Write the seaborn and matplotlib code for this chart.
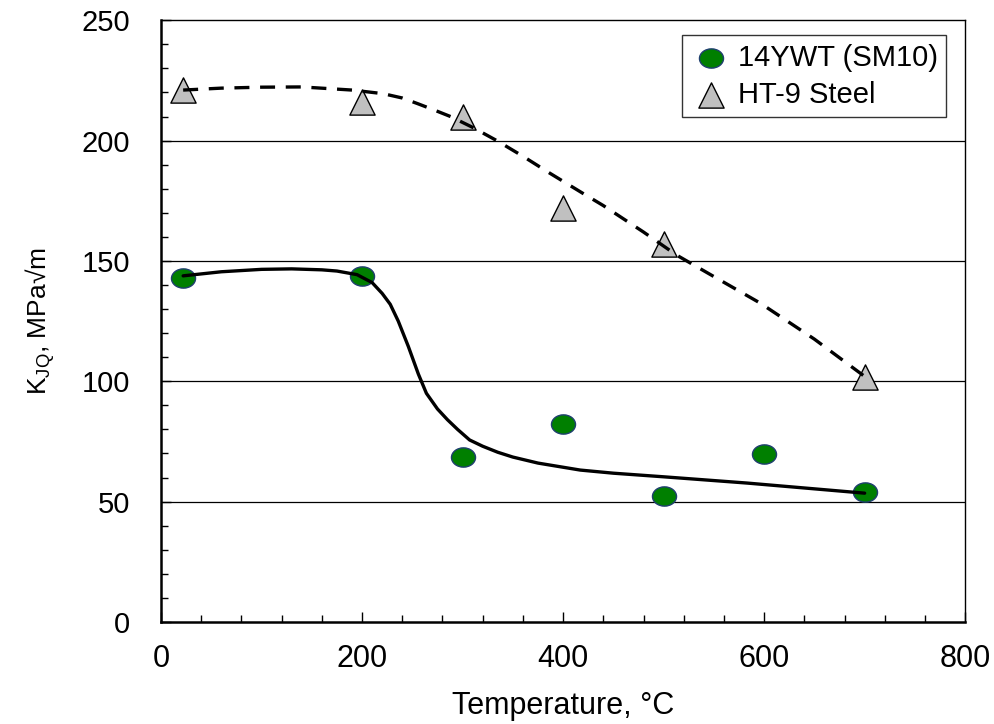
import matplotlib
matplotlib.use("Agg")
import matplotlib.pyplot as plt
import matplotlib.path as mpath
from matplotlib.transforms import Affine2D
from matplotlib.ticker import MultipleLocator
import seaborn as sns
import pandas as pd

# ---- data ----
temp_pts = [22, 200, 300, 400, 500, 600, 700]
ywt_vals = [142.9, 143.7, 68.5, 82.2, 52.3, 69.8, 54.0]
ht9_temp = [22, 200, 300, 400, 500, 700]
ht9_vals = [220.9, 216.0, 210.0, 172.0, 157.0, 101.7]

# trend curves
ywt_fit_t = [22, 60, 100, 130, 160, 175, 195, 210, 220, 228, 236, 246, 256, 264, 275, 285, 295, 307, 320, 335, 350, 375, 417, 450, 500, 583, 700]
ywt_fit_v = [143.8, 145.5, 146.5, 146.7, 146.3, 145.8, 144.3, 141.0, 136.5, 132.0, 125.0, 114.5, 103.0, 95.0, 88.5, 84.0, 80.0, 75.6, 73.0, 70.5, 68.5, 66.0, 63.1, 61.8, 60.3, 57.7, 53.5]
ht9_fit_t = [22, 60, 100, 140, 190, 221, 240, 255, 270, 288, 310, 334, 360, 387, 420, 440, 460, 480, 513, 550, 596, 650, 700]
ht9_fit_v = [221.0, 221.8, 222.2, 222.3, 221.0, 219.5, 217.7, 215.4, 213.0, 210.0, 205.5, 200.0, 193.5, 186.4, 178.0, 173.0, 167.5, 162.0, 152.4, 143.5, 132.5, 117.5, 102.0]

labels = ["14YWT (SM10)", "HT-9 Steel"]

sns.set_style("white")
plt.rcParams["font.family"] = ["Liberation Sans", "DejaVu Sans"]
plt.rcParams["mathtext.fontset"] = "custom"
plt.rcParams["mathtext.rm"] = "Liberation Sans"
plt.rcParams["text.color"] = "black"
plt.rcParams["axes.labelcolor"] = "black"
plt.rcParams["xtick.color"] = "black"
plt.rcParams["ytick.color"] = "black"

fig = plt.figure(figsize=(9.94, 7.24), dpi=100)
ax = fig.add_axes([0.162, 0.141, 0.809, 0.831])

# gridlines
for yv in [50, 100, 150, 200]:
    ax.axhline(yv, color="black", lw=0.9, zorder=0)

df_yf = pd.DataFrame({"t": ywt_fit_t, "v": ywt_fit_v})
df_hf = pd.DataFrame({"t": ht9_fit_t, "v": ht9_fit_v})
sns.lineplot(data=df_yf, x="t", y="v", ax=ax, color="black", lw=2.4, sort=False, estimator=None, zorder=3)
sns.lineplot(data=df_hf, x="t", y="v", ax=ax, color="black", lw=2.4, sort=False, estimator=None, zorder=3)
ax.lines[-1].set_dashes([4.5, 3.2])
for ln in ax.lines[-2:]:
    ln.set_solid_joinstyle("round")
    ln.set_dash_joinstyle("round")

ell = mpath.Path.unit_circle().transformed(Affine2D().scale(1.25, 1.0))
df_y = pd.DataFrame({"t": temp_pts, "v": ywt_vals})
df_h = pd.DataFrame({"t": ht9_temp, "v": ht9_vals})
sns.scatterplot(data=df_y, x="t", y="v", ax=ax, marker=ell, s=300, color="#007f00",
                edgecolor="#1f3f6f", linewidth=1.0, zorder=2, label=labels[0])
sns.scatterplot(data=df_h, x="t", y="v", ax=ax, marker="^", s=330, color="#c0c0c0",
                edgecolor="black", linewidth=1.0, zorder=2, label=labels[1])

ax.set_xlim(0, 800)
ax.set_ylim(0, 250)
ax.xaxis.set_major_locator(MultipleLocator(200))
ax.xaxis.set_minor_locator(MultipleLocator(40))
ax.yaxis.set_major_locator(MultipleLocator(50))
ax.yaxis.set_minor_locator(MultipleLocator(10))
ax.tick_params(which="both", direction="in", color="black", width=1.0)
ax.tick_params(which="major", length=7)
ax.tick_params(which="minor", length=5)
ax.tick_params(axis="x", which="major", labelsize=22, pad=16)
ax.tick_params(axis="y", which="major", labelsize=21, pad=22)
ax.tick_params(bottom=True, left=True, top=False, right=False, which="both")

for side in ["left", "bottom"]:
    ax.spines[side].set_color("black")
    ax.spines[side].set_linewidth(1.8)
for side in ["top", "right"]:
    ax.spines[side].set_color("black")
    ax.spines[side].set_linewidth(1.0)

ax.set_xlabel("Temperature, °C", fontsize=22, labelpad=12)
ax.set_ylabel(r"K$_\mathregular{JQ}$, MPa√m", fontsize=19, labelpad=18)

leg = ax.legend(loc="upper right", bbox_to_anchor=(0.9838, 0.985), fontsize=21, frameon=True,
                fancybox=False, edgecolor="black", handletextpad=0.2, borderpad=0.3,
                labelspacing=0.3, handlelength=1.4, markerscale=1.0, borderaxespad=0.2)
leg.get_frame().set_linewidth(1.0)

fig.savefig("out.png", dpi=100)
